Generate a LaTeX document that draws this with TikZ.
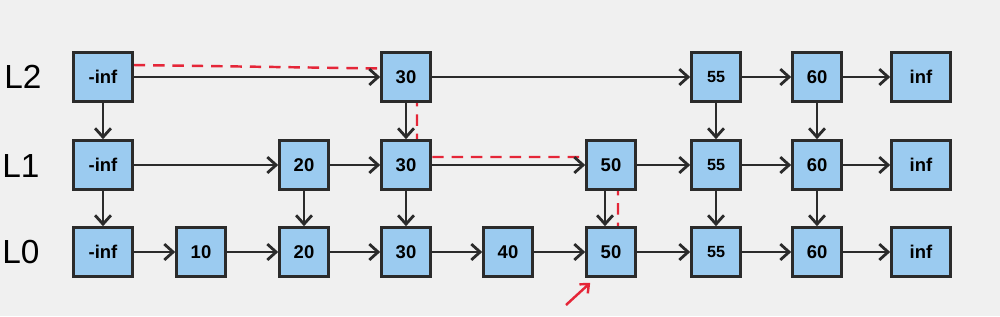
\documentclass[tikz,border=0pt]{standalone}
\usepackage{fontspec}
\setmainfont{Liberation Sans}
\usetikzlibrary{arrows.meta,calc,backgrounds}
\definecolor{cellblue}{HTML}{9BCBF0}
\definecolor{edge}{HTML}{2B2B2B}
\definecolor{trace}{HTML}{E52638}
\definecolor{paper}{HTML}{F0F0F0}

\begin{document}
\begin{tikzpicture}[x=0.02cm, y=-0.02cm,
  cell/.style={draw=edge, fill=cellblue, line width=1.5pt, minimum width=0.98cm,
    minimum height=0.98cm, inner sep=0pt, font=\fontsize{10.5}{12}\selectfont\bfseries},
  endcell/.style={cell, minimum width=1.18cm},
  smallcell/.style={cell, font=\fontsize{9.2}{11}\selectfont\bfseries},
  link/.style={draw=edge, line width=1.6pt, -{Straight Barb[length=5pt,width=9pt]}},
  searchpath/.style={draw=trace, line width=1.4pt, dash pattern=on 6.5pt off 4.5pt},
  pointer/.style={draw=trace, line width=1.4pt, -{Straight Barb[length=4pt,width=7pt]}},
  level/.style={font=\fontsize{19}{21}\selectfont, text=black}]

  \useasboundingbox (0,0) rectangle (1000,316);

  % level labels
  \node[level] (lab2) at (23,77) {L2};
  \node[level] (lab1) at (21,166) {L1};
  \node[level] (lab0) at (21,252) {L0};

  % level 2 list
  \node[endcell]   (h2)    at (103,77) {-inf};
  \node[cell]      (n2-30) at (406,77) {30};
  \node[smallcell] (n2-55) at (716,77) {55};
  \node[cell]      (n2-60) at (817,77) {60};
  \node[endcell]   (t2)    at (921,77) {inf};

  % level 1 list
  \node[endcell]   (h1)    at (103,165) {-inf};
  \node[cell]      (n1-20) at (304,165) {20};
  \node[cell]      (n1-30) at (406,165) {30};
  \node[cell]      (n1-50) at (611,165) {50};
  \node[smallcell] (n1-55) at (716,165) {55};
  \node[cell]      (n1-60) at (817,165) {60};
  \node[endcell]   (t1)    at (921,165) {inf};

  % level 0 list
  \node[endcell]   (h0)    at (103,252) {-inf};
  \node[cell]      (n0-10) at (201,252) {10};
  \node[cell]      (n0-20) at (304,252) {20};
  \node[cell]      (n0-30) at (406,252) {30};
  \node[cell]      (n0-40) at (508,252) {40};
  \node[cell]      (n0-50) at (611,252) {50};
  \node[smallcell] (n0-55) at (716,252) {55};
  \node[cell]      (n0-60) at (817,252) {60};
  \node[endcell]   (t0)    at (921,252) {inf};

  % forward links
  \draw[link] (h2) -- (n2-30);  \draw[link] (n2-30) -- (n2-55);
  \draw[link] (n2-55) -- (n2-60);  \draw[link] (n2-60) -- (t2);
  \draw[link] (h1) -- (n1-20);  \draw[link] (n1-20) -- (n1-30);
  \draw[link] (n1-30) -- (n1-50);  \draw[link] (n1-50) -- (n1-55);
  \draw[link] (n1-55) -- (n1-60);  \draw[link] (n1-60) -- (t1);
  \draw[link] (h0) -- (n0-10);  \draw[link] (n0-10) -- (n0-20);
  \draw[link] (n0-20) -- (n0-30);  \draw[link] (n0-30) -- (n0-40);
  \draw[link] (n0-40) -- (n0-50);  \draw[link] (n0-50) -- (n0-55);
  \draw[link] (n0-55) -- (n0-60);  \draw[link] (n0-60) -- (t0);

  % down links
  \draw[link] (h2) -- (h1);  \draw[link] (n2-30) -- (n1-30);
  \draw[link] (n2-55) -- (n1-55);  \draw[link] (n2-60) -- (n1-60);
  \draw[link] (h1) -- (h0);  \draw[link] (n1-20) -- (n0-20);
  \draw[link] (n1-30) -- (n0-30);
  \draw[link] ($(n1-50.south)+(-6,0)$) -- ($(n0-50.north)+(-6,0)$);
  \draw[link] (n1-55) -- (n0-55);  \draw[link] (n1-60) -- (n0-60);

  % search for 50, marked in red
  \coordinate (ptr) at (566,305);
  \draw[pointer] (ptr) -- ($(n0-50.south west)+(5,5)$);

  \begin{scope}[on background layer]
    \fill[paper] (0,0) rectangle (1000,316);
    \draw[searchpath] ($(h2.east)+(0,-12)$) -- ($(n2-30.center)+(11,-8)$)
      -- ($(n1-30.center)+(11,-8)$) -- ($(n1-50.center)+(7,-8)$)
      -- (n0-50.north -| {$(n1-50.center)+(7,0)$});
  \end{scope}
\end{tikzpicture}
\end{document}
